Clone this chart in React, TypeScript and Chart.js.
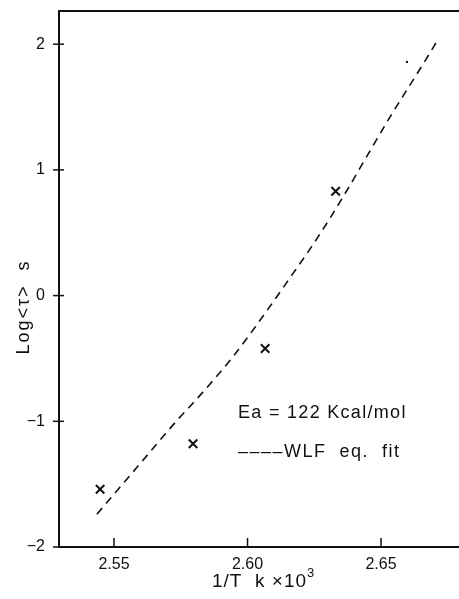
import React, { useEffect, useRef } from "react";
import { Chart, registerables } from "chart.js";

Chart.register(...registerables);

const measuredX = [2.5448, 2.5796, 2.6066, 2.633];
const measuredY = [-1.541, -1.179, -0.421, 0.83];
const dotX = [2.6597];
const dotY = [1.859];
const fitX = [2.5436, 2.5586, 2.5736, 2.5822, 2.5946, 2.6073, 2.617, 2.626, 2.6358, 2.6459, 2.6534, 2.6657, 2.671];
const fitY = [-1.739, -1.366, -0.993, -0.794, -0.485, -0.119, 0.175, 0.453, 0.786, 1.152, 1.422, 1.84, 2.025];
const xTicks = [2.55, 2.6, 2.65];
const yTicks = [-2, -1, 0, 1, 2];
const legendLine1 = "Ea = 122 Kcal/mol";
const legendLine2 = "––––WLF  eq.  fit";
const xTitle = "1/T  k ×10";
const xTitleSup = "3";
const yTitle = "Log<τ>  s";

const FONT = "'Liberation Sans', Arial, sans-serif";

const decorPlugin = {
  id: "decor",
  afterDraw(chart: any) {
    const ctx = chart.ctx;
    const area = chart.chartArea;
    const xs = chart.scales.x;
    const ys = chart.scales.y;
    ctx.save();
    ctx.strokeStyle = "#111";
    ctx.fillStyle = "#111";
    // top frame line
    ctx.lineWidth = 2;
    ctx.beginPath();
    ctx.moveTo(area.left - 1, area.top);
    ctx.lineTo(area.right, area.top);
    ctx.stroke();
    // tick marks
    ctx.lineWidth = 1.5;
    xTicks.forEach((v) => {
      const p = xs.getPixelForValue(v);
      ctx.beginPath();
      ctx.moveTo(p, area.bottom - 9);
      ctx.lineTo(p, area.bottom + 1);
      ctx.stroke();
    });
    yTicks.forEach((v) => {
      const p = ys.getPixelForValue(v);
      ctx.beginPath();
      ctx.moveTo(area.left - 6, p);
      ctx.lineTo(area.left + 5, p);
      ctx.stroke();
    });
    // legend text
    (ctx as any).letterSpacing = "1.3px";
    ctx.font = `18px ${FONT}`;
    ctx.textAlign = "left";
    ctx.textBaseline = "alphabetic";
    ctx.fillText(legendLine1, 238, 418);
    (ctx as any).letterSpacing = "1.5px";
    ctx.fillText(legendLine2, 238, 457);
    // x title
    (ctx as any).letterSpacing = "1px";
    ctx.font = `19px ${FONT}`;
    ctx.fillText(xTitle, 212, 587);
    const w = ctx.measureText(xTitle).width;
    ctx.font = `13px ${FONT}`;
    ctx.fillText(xTitleSup, 212 + w, 577);
    // y title
    ctx.translate(29, 307);
    ctx.rotate(-Math.PI / 2);
    ctx.font = `18px ${FONT}`;
    (ctx as any).letterSpacing = "2px";
    ctx.textAlign = "center";
    ctx.fillText(yTitle, 0, 0);
    ctx.restore();
  },
};

export default function App() {
  const ref = useRef<HTMLCanvasElement | null>(null);
  useEffect(() => {
    if (!ref.current) return;
    const chart = new Chart(ref.current, {
      type: "scatter",
      data: {
        datasets: [
          {
            label: "WLF eq. fit",
            data: fitX.map((x, i) => ({ x, y: fitY[i] })),
            showLine: true,
            borderColor: "#111",
            borderWidth: 1.6,
            borderDash: [8, 6],
            pointRadius: 0,
            cubicInterpolationMode: "monotone",
            fill: false,
          },
          {
            label: "measured",
            data: measuredX.map((x, i) => ({ x, y: measuredY[i] })),
            pointStyle: "crossRot",
            pointRadius: 6,
            borderColor: "#111",
            backgroundColor: "#111",
            pointBorderWidth: 2,
          },
          {
            label: "dot",
            data: dotX.map((x, i) => ({ x, y: dotY[i] })),
            pointStyle: "circle",
            pointRadius: 1.2,
            borderColor: "#111",
            backgroundColor: "#111",
            pointBorderWidth: 0,
          },
        ],
      },
      options: {
        responsive: false,
        animation: false,
        layout: { padding: { top: 11, right: 0, left: 0, bottom: 0 }, autoPadding: false },
        plugins: { legend: { display: false }, tooltip: { enabled: false } },
        scales: {
          x: {
            type: "linear",
            min: 2.5294,
            max: 2.6792,
            afterBuildTicks: (s: any) => {
              s.ticks = xTicks.map((v) => ({ value: v }));
            },
            afterFit: (s: any) => {
              s.height = 52;
              s.paddingLeft = 0;
              s.paddingRight = 0;
            },
            ticks: {
              callback: (v: any) => Number(v).toFixed(2),
              color: "#111",
              font: { family: FONT, size: 16 },
              padding: 8,
              maxRotation: 0,
              autoSkip: false,
            },
            grid: { drawOnChartArea: false, drawTicks: false },
            border: { display: true, color: "#111", width: 2 },
          },
          y: {
            type: "linear",
            min: -2,
            max: 2.264,
            afterBuildTicks: (s: any) => {
              s.ticks = yTicks.map((v) => ({ value: v }));
            },
            afterFit: (s: any) => {
              s.width = 59;
              s.paddingTop = 0;
              s.paddingBottom = 0;
            },
            ticks: {
              callback: (v: any) => (Number(v) < 0 ? "−" + Math.abs(Number(v)) : String(v)),
              color: "#111",
              font: { family: FONT, size: 16 },
              padding: 14,
              autoSkip: false,
            },
            grid: { drawOnChartArea: false, drawTicks: false },
            border: { display: true, color: "#111", width: 2 },
          },
        },
      },
      plugins: [decorPlugin],
    } as any);
    return () => chart.destroy();
  }, []);
  return (
    <div style={{ position: "absolute", left: 0, top: 0, width: 459, height: 599, background: "#fff" }}>
      <canvas ref={ref} width={459} height={599} style={{ width: 459, height: 599, display: "block" }} />
    </div>
  );
}
